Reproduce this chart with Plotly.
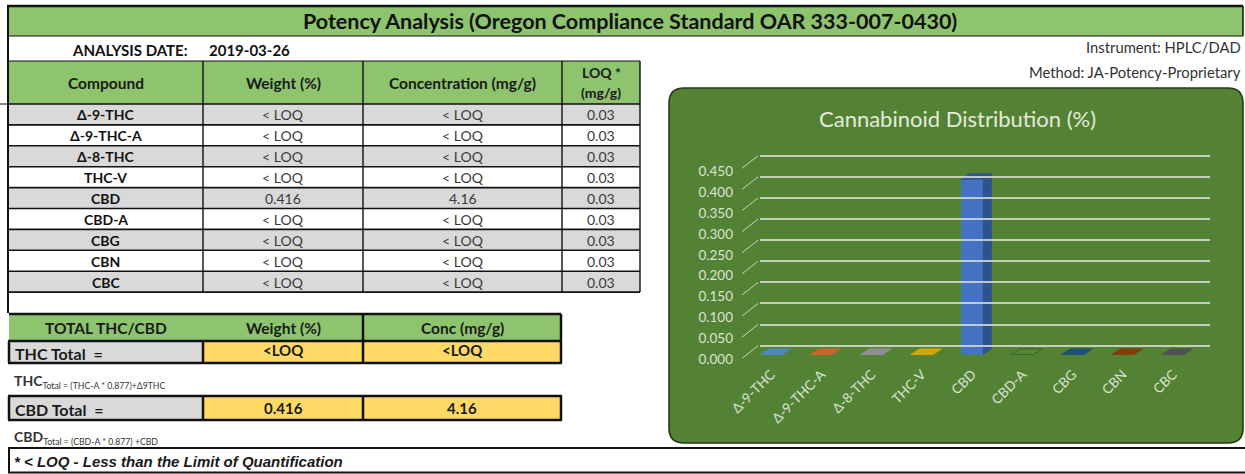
import plotly.graph_objects as go

W, H = 1245, 474

# ---------------- data ----------------
compounds = ["Δ-9-THC", "Δ-9-THC-A", "Δ-8-THC", "THC-V", "CBD", "CBD-A", "CBG", "CBN", "CBC"]
weight_pct = ["< LOQ", "< LOQ", "< LOQ", "< LOQ", "0.416", "< LOQ", "< LOQ", "< LOQ", "< LOQ"]
conc_mg_g = ["< LOQ", "< LOQ", "< LOQ", "< LOQ", "4.16", "< LOQ", "< LOQ", "< LOQ", "< LOQ"]
loq_mg_g = ["0.03", "0.03", "0.03", "0.03", "0.03", "0.03", "0.03", "0.03", "0.03"]
dist_pct = [0, 0, 0, 0, 0.416, 0, 0, 0, 0]          # < LOQ plotted as 0
y_ticks = [0.000, 0.050, 0.100, 0.150, 0.200, 0.250, 0.300, 0.350, 0.400, 0.450]
table_headers = ["Compound", "Weight (%)", "Concentration (mg/g)"]
loq_header = ["LOQ *", "(mg/g)"]
total_headers = ["TOTAL THC/CBD", "Weight (%)", "Conc (mg/g)"]
total_names = ["THC Total  =", "CBD Total  ="]
total_weight = ["<LOQ", "0.416"]
total_conc = ["<LOQ", "4.16"]
formula_main = ["THC", "CBD"]
formula_sub = ["Total = (THC-A * 0.877)+Δ9THC", "Total = (CBD-A * 0.877) +CBD"]

# ---------------- styles ----------------
FONT = "Lato"
GREEN_HDR = "#8EC46E"
GRAY = "#D9D9D9"
YELLOW = "#FFD966"
CHART_BG = "#548235"
LIGHT = "#DCE3D4"
front_colors = ["#5B9BD5", "#ED7D31", "#A5A5A5", "#FFC000", "#4472C4", "#5A8C3C", "#255E91", "#9E480E", "#636363"]
top_colors = ["#4F87BC", "#C9652A", "#8F8F8F", "#D9A400", "#2F5597", "#56883A", "#1F4E79", "#843C0C", "#505050"]
top_lines = ["#4F87BC", "#C9652A", "#8F8F8F", "#D9A400", "#2F5597", "#3B6428", "#1F4E79", "#843C0C", "#505050"]
side_colors = ["#3E6E9E", "#B0561E", "#7A7A7A", "#BF8F00", "#2F528F", "#3B6428", "#1A4166", "#6E330C", "#404040"]


def X(x):
    return x / W


def Y(y):
    return 1 - y / H


shapes = []
annots = []


def rect(x0, y0, x1, y1, fill=None, lc=None, lw=1.0, layer="below"):
    shapes.append(dict(type="rect", xref="paper", yref="paper",
                       x0=X(x0), x1=X(x1), y0=Y(y1), y1=Y(y0),
                       fillcolor=fill or "rgba(0,0,0,0)",
                       line=dict(color=lc or "rgba(0,0,0,0)", width=lw if lc else 0),
                       layer=layer))


def hline(x0, x1, y, color="#111111", w=1.2):
    shapes.append(dict(type="line", xref="paper", yref="paper",
                       x0=X(x0), x1=X(x1), y0=Y(y), y1=Y(y),
                       line=dict(color=color, width=w), layer="above"))


def vline(x, y0, y1, color="#111111", w=1.2):
    shapes.append(dict(type="line", xref="paper", yref="paper",
                       x0=X(x), x1=X(x), y0=Y(y0), y1=Y(y1),
                       line=dict(color=color, width=w), layer="above"))


def text(x, y, s, size=14, color="#222222", anchor="center", bold=False, italic=False, family=FONT):
    s = s.replace("<", "&lt;")
    if italic:
        s = "<i>" + s + "</i>"
    if bold:
        s = "<b>" + s + "</b>"
    annots.append(dict(xref="paper", yref="paper", x=X(x), y=Y(y), text=s,
                       showarrow=False, xanchor=anchor, yanchor="middle",
                       font=dict(family=family, size=size, color=color)))


# ---------------- title bar ----------------
rect(8, 6, 1243, 36, fill=GREEN_HDR)
hline(7, 1243, 6, w=2.5)
hline(8, 1243, 36, w=1.2)
vline(1243, 6, 36, w=1.5)
text(630, 21.5, "Potency Analysis (Oregon Compliance Standard OAR 333-007-0430)", size=21.5, color="#111111", bold=True)

# left frame of upper block
vline(8, 5, 313, w=2.0)

# analysis date
text(190, 49.5, "ANALYSIS DATE:", size=15, color="#111111", anchor="right", bold=True)
text(207, 49.5, "2019-03-26", size=15, color="#111111", anchor="left", bold=True)

# instrument / method
text(1243, 47, "Instrument: HPLC/DAD", size=14.8, color="#333333", anchor="right")
text(1243, 72, "Method: JA-Potency-Proprietary", size=14.8, color="#333333", anchor="right")

# ---------------- compound table ----------------
cols = [8, 203, 363, 562, 640]
hdr_top, hdr_bot = 61, 104
row_h = 20.9

rect(cols[0], hdr_top, cols[-1], hdr_bot, fill=GREEN_HDR)
for i, h in enumerate(table_headers):
    text((cols[i] + cols[i + 1]) / 2, (hdr_top + hdr_bot) / 2, h, size=15.5, color="#1A1A1A", bold=True)
text((cols[3] + cols[4]) / 2, 72.5, loq_header[0], size=14, color="#1A1A1A", bold=True)
text((cols[3] + cols[4]) / 2, 93, loq_header[1], size=14, color="#1A1A1A", bold=True)

for r, name in enumerate(compounds):
    y0 = hdr_bot + r * row_h
    y1 = y0 + row_h
    rect(cols[0], y0, cols[-1], y1, fill=GRAY if r % 2 == 0 else "white")
    yc = (y0 + y1) / 2 + 0.5
    text((cols[0] + cols[1]) / 2, yc, name, size=14, color="#111111", bold=True)
    text((cols[1] + cols[2]) / 2, yc, weight_pct[r], size=14, color="#3A3A3A")
    text((cols[2] + cols[3]) / 2, yc, conc_mg_g[r], size=14, color="#3A3A3A")
    text((cols[3] + cols[4]) / 2, yc, loq_mg_g[r], size=14, color="#3A3A3A")

for r in range(len(compounds) + 1):
    hline(cols[0], cols[-1], hdr_bot + r * row_h, w=1.6)
hline(cols[0], cols[-1], hdr_top, w=1.2)
hline(0, cols[0], hdr_bot, w=1.0)
for c in cols[1:]:
    vline(c, hdr_top, hdr_bot + len(compounds) * row_h, w=1.4)

# ---------------- totals table ----------------
tcols = [9, 203, 363, 561]
rect(tcols[0], 315, tcols[-1], 340, fill=GREEN_HDR)
for i, h in enumerate(total_headers):
    text((tcols[i] + tcols[i + 1]) / 2, 328, h, size=15.5, color="#1A1A1A", bold=True)
hline(tcols[0], tcols[-1], 314, w=2.5)
vline(tcols[2], 314, 340, w=2.5)
vline(tcols[3], 314, 340, w=2.5)

total_rows = [(341, 363), (396, 420)]
formula_y = [381, 437]
for k, (a, b) in enumerate(total_rows):
    rect(tcols[0], a, tcols[1], b, fill=GRAY)
    rect(tcols[1], a, tcols[3], b, fill=YELLOW)
    hline(tcols[0] - 1, tcols[-1] + 1, a, w=2.5)
    hline(tcols[0] - 1, tcols[-1] + 1, b, w=2.5)
    for c in tcols:
        vline(c, a, b, w=2.5)
    text(tcols[0] + 4, (a + b) / 2 + 1, total_names[k], size=16, color="#1A1A1A", anchor="left", bold=True)
    text((tcols[1] + tcols[2]) / 2, (a + b) / 2 - (2 if k == 0 else 0), total_weight[k], size=15, color="#1A1A1A", bold=True)
    text((tcols[2] + tcols[3]) / 2, (a + b) / 2 - (2 if k == 0 else 0), total_conc[k], size=15, color="#1A1A1A", bold=True)
    annots.append(dict(xref="paper", yref="paper", x=X(12), y=Y(formula_y[k]),
                       text="<b>" + formula_main[k] + "</b><sub><span style='font-size:8.7px'>"
                            + formula_sub[k] + "</span></sub>",
                       showarrow=False, xanchor="left", yanchor="middle",
                       font=dict(family=FONT, size=14, color="#333333")))

# ---------------- footnote ----------------
hline(8, 1245, 448, w=2.2)
hline(8, 1245, 472.5, w=2.2)
vline(9, 448, 473, w=2.0)
text(12, 461, "* < LOQ - Less than the Limit of Quantification", size=15, color="#1A1A1A",
     anchor="left", bold=True, italic=True, family="Liberation Sans")

# ---------------- chart box ----------------
bx0, by0, bx1, by1, rr = 669, 88, 1243, 443, 15
path = (f"M {X(bx0 + rr)},{Y(by0)} L {X(bx1 - rr)},{Y(by0)} Q {X(bx1)},{Y(by0)} {X(bx1)},{Y(by0 + rr)} "
        f"L {X(bx1)},{Y(by1 - rr)} Q {X(bx1)},{Y(by1)} {X(bx1 - rr)},{Y(by1)} "
        f"L {X(bx0 + rr)},{Y(by1)} Q {X(bx0)},{Y(by1)} {X(bx0)},{Y(by1 - rr)} "
        f"L {X(bx0)},{Y(by0 + rr)} Q {X(bx0)},{Y(by0)} {X(bx0 + rr)},{Y(by0)} Z")
shapes.append(dict(type="path", xref="paper", yref="paper", path=path,
                   fillcolor=CHART_BG, line=dict(color="#26381A", width=1.6), layer="below"))
text(957, 118, "Cannabinoid Distribution (%)", size=22, color="#E4EADC")

# ---------------- axes geometry (pixels) ----------------
cat_step = 50.25            # px per category
x_left = 746                # px of category -0.5
depth_dx, depth_dy = 8.5, 5.5


def y_domain(p0, k, r0, r1):
    # p0: px of value 0, k: px per unit
    return [Y(p0 - k * r0), Y(p0 - k * r1)]


RANGE = [-0.03, 0.48]
grid_p0, grid_k = 345.7, 422.2
lab_p0, lab_k = 359.0, 416.5
bar_p0, bar_k = 354.5, 421.0

# ---------------- traces ----------------
n = len(compounds)
bw = 22 / cat_step
hw = bw / 2
dx = depth_dx / cat_step
dy = depth_dy / bar_k

fig = go.Figure()
fig.add_trace(go.Bar(x=list(range(n)), y=dist_pct, width=bw,
                     marker=dict(color=front_colors, line=dict(width=0)),
                     xaxis="x", yaxis="y3", hoverinfo="skip", showlegend=False))
for i, v in enumerate(dist_pct):
    if v > 0:
        fig.add_trace(go.Scatter(x=[i + hw, i + hw + dx, i + hw + dx, i + hw, i + hw],
                                 y=[0, dy, v + dy, v, 0], mode="lines", fill="toself",
                                 fillcolor=side_colors[i], line=dict(color=side_colors[i], width=0.5),
                                 xaxis="x", yaxis="y3", hoverinfo="skip", showlegend=False))
    fig.add_trace(go.Scatter(x=[i - hw, i + hw, i + hw + dx, i - hw + dx, i - hw],
                             y=[v, v, v + dy, v + dy, v], mode="lines", fill="toself",
                             fillcolor=top_colors[i], line=dict(color=top_lines[i], width=1),
                             xaxis="x", yaxis="y3", hoverinfo="skip", showlegend=False))

# invisible anchor traces so the grid and label axes get their subplots
fig.add_trace(go.Scatter(x=[None], y=[None], xaxis="x2", yaxis="y", hoverinfo="skip", showlegend=False))
fig.add_trace(go.Scatter(x=[None], y=[None], xaxis="x", yaxis="y2", hoverinfo="skip", showlegend=False))

# diagonal tick connectors (front label plane -> back wall)
for v in y_ticks:
    shapes.append(dict(type="line", xref="paper", yref="y", x0=X(742), x1=X(758),
                       y0=v - 12.6 / grid_k, y1=v,
                       line=dict(color="rgba(220,225,215,0.85)", width=1), layer="above"))

fig.update_layout(
    width=W, height=H, autosize=False,
    margin=dict(l=0, r=0, t=0, b=0),
    paper_bgcolor="white", plot_bgcolor="rgba(0,0,0,0)",
    template="none",
    showlegend=False,
    barmode="overlay",
    shapes=shapes, annotations=annots,
    xaxis=dict(domain=[X(x_left), X(x_left + n * cat_step)], range=[-0.5, n - 0.5],
               tickvals=list(range(n)), ticktext=compounds, tickangle=-45,
               tickfont=dict(family=FONT, size=13.5, color=LIGHT),
               showgrid=False, zeroline=False, showline=False, ticks="",
               anchor="free", position=Y(363), fixedrange=True),
    xaxis2=dict(domain=[X(760), X(1210)], range=[0, 1], visible=False, anchor="y", fixedrange=True),
    yaxis=dict(domain=y_domain(grid_p0, grid_k, *RANGE), range=RANGE, anchor="x2",
               tickvals=y_ticks, showticklabels=False, ticks="",
               showgrid=True, gridcolor="rgba(215,220,210,0.85)", gridwidth=1.6,
               zeroline=False, showline=False, fixedrange=True),
    yaxis2=dict(domain=y_domain(lab_p0, lab_k, *RANGE), range=RANGE, anchor="free",
                position=X(733), side="left",
                tickvals=y_ticks, tickformat=".3f",
                tickfont=dict(family=FONT, size=13.5, color=LIGHT),
                showgrid=False, zeroline=False, showline=False, ticks="", fixedrange=True),
    yaxis3=dict(domain=y_domain(bar_p0, bar_k, *RANGE), range=RANGE, anchor="x",
                visible=False, fixedrange=True),
)

fig.write_html("out.html", config={"displayModeBar": False},
               post_script="document.body.style.margin='0';")
